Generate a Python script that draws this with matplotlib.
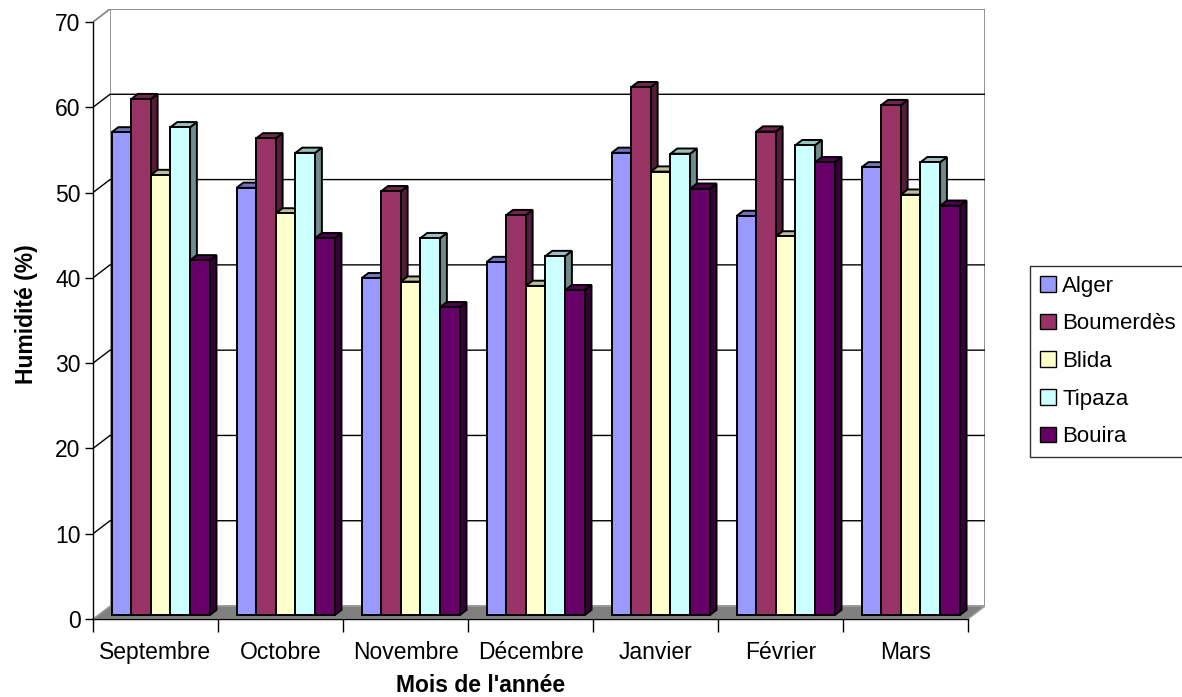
import numpy as np
import matplotlib.pyplot as plt
from matplotlib.patches import Polygon, Patch
from matplotlib.colors import to_rgb

plt.rcParams['font.family'] = ['Liberation Sans', 'DejaVu Sans']

months = ['Septembre', 'Octobre', 'Novembre', 'Décembre', 'Janvier', 'Février', 'Mars']
cities = ['Alger', 'Boumerdès', 'Blida', 'Tipaza', 'Bouira']
colors = ['#9999FF', '#993366', '#FFFFCC', '#CCFFFF', '#660066']

alger = [56.6, 50.1, 39.5, 41.4, 54.2, 46.8, 52.5]
boumerdes = [60.5, 55.9, 49.7, 46.9, 61.9, 56.7, 59.8]
blida = [51.6, 47.1, 39.1, 38.6, 52.0, 44.4, 49.3]
tipaza = [57.2, 54.2, 44.2, 42.1, 54.1, 55.1, 53.1]
bouira = [41.6, 44.2, 36.1, 38.1, 50.0, 53.1, 48.0]
series = [alger, boumerdes, blida, tipaza, bouira]

yticks = np.arange(0, 71, 10)
ymax = 70
FS = 16.5

# depth of the box (in data units) and bar placement inside it
DX, DY = 0.136, 1.52
F, G = 0.3, 0.4
W = 0.157


def shade(c, k):
    return tuple(np.array(to_rgb(c)) * k)


def bar3d(ax, x0, h, color):
    bx, by = x0 + F * DX, F * DY
    ddx, ddy = G * DX, G * DY
    side = [(bx + W, by), (bx + W + ddx, by + ddy),
            (bx + W + ddx, by + h + ddy), (bx + W, by + h)]
    top = [(bx, by + h), (bx + W, by + h),
           (bx + W + ddx, by + h + ddy), (bx + ddx, by + h + ddy)]
    front = [(bx, by), (bx + W, by), (bx + W, by + h), (bx, by + h)]
    for pts, c in ((side, shade(color, 0.55)), (top, shade(color, 0.75)), (front, color)):
        ax.add_patch(Polygon(pts, closed=True, facecolor=c, edgecolor='black',
                             linewidth=1.4, joinstyle='miter', zorder=3))


fig = plt.figure(figsize=(11.82, 6.97), dpi=100)
ax = fig.add_axes([0.0787, 0.1119, 0.7547, 0.8752])
ax.set_xlim(0, 7 + DX)
ax.set_ylim(0, ymax + DY)
ax.patch.set_visible(False)

n = len(months)
# walls and floor
ax.add_patch(Polygon([(DX, DY), (n + DX, DY), (n + DX, ymax + DY), (DX, ymax + DY)],
                     facecolor='white', edgecolor='#808080', linewidth=1.2, zorder=1))
ax.add_patch(Polygon([(0, 0), (DX, DY), (DX, ymax + DY), (0, ymax)],
                     facecolor='white', edgecolor='none', zorder=1))
ax.plot([0, DX], [ymax, ymax + DY], color='#808080', lw=1.2, zorder=1.5)
ax.add_patch(Polygon([(0, 0), (n, 0), (n + DX, DY), (DX, DY)],
                     facecolor='#808080', edgecolor='#a0a0a0', linewidth=1, zorder=1.5))
for v in yticks[1:-1]:
    ax.plot([0, DX, n + DX], [v, v + DY, v + DY], color='black', lw=1, zorder=1.6)

for i in range(n):
    start = i + (1 - len(cities) * W) / 2
    for j, (vals, c) in enumerate(zip(series, colors)):
        bar3d(ax, start + j * W, vals[i], c)

for s in ('top', 'right'):
    ax.spines[s].set_visible(False)
ax.spines['left'].set_bounds(0, ymax)
ax.spines['bottom'].set_bounds(0, n)
for s in ('left', 'bottom'):
    ax.spines[s].set_color('black')
    ax.spines[s].set_linewidth(1)
    ax.spines[s].set_zorder(4)

ax.set_yticks(yticks)
ax.tick_params(axis='y', length=6, width=1, labelsize=FS, pad=3)
ax.set_xticks(np.arange(n + 1))
ax.set_xticklabels([])
ax.set_xticks(np.arange(n) + 0.5, minor=True)
ax.set_xticklabels(months, minor=True)
ax.tick_params(axis='x', which='major', length=9, width=1)
ax.tick_params(axis='x', which='minor', length=0, labelsize=FS, pad=16)

ax.set_ylabel('Humidité (%)', fontsize=FS, fontweight='bold', labelpad=12)
fig.text(481 / 1182, 1 - 686 / 697, "Mois de l'année", fontsize=FS, fontweight='bold',
         ha='center', va='center')

handles = [Patch(facecolor=c, edgecolor='black', linewidth=1) for c in colors]
leg = fig.legend(handles, cities, loc='center left', bbox_to_anchor=(0.8714, 0.4813),
                 fontsize=16, frameon=True, fancybox=False, edgecolor='black',
                 handlelength=0.7, handleheight=0.7, handletextpad=0.3,
                 labelspacing=0.75, borderpad=0.45, borderaxespad=0)
leg.get_frame().set_linewidth(1)

fig.savefig('out.png', dpi=100, facecolor='white')
